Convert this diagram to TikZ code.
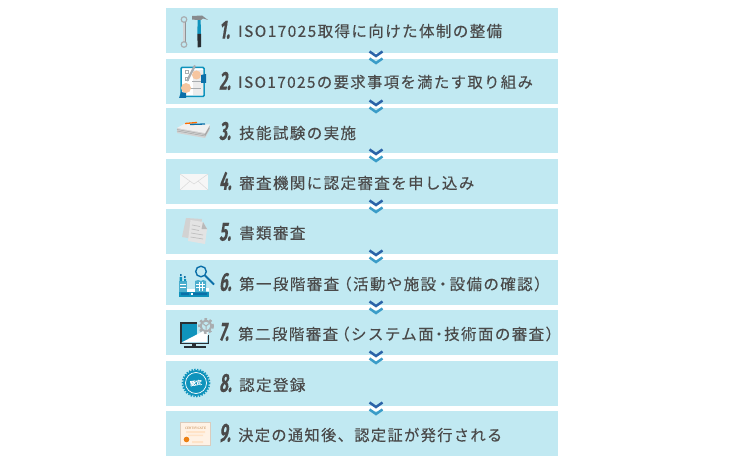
\documentclass[tikz,border=0pt]{standalone}
\usepackage{fontspec}
\usetikzlibrary{calc}
\newfontfamily\jpf[LetterSpace=9,FakeBold=0.25]{Noto Sans CJK JP}
\newfontfamily\jpb[FakeBold=0.6]{Noto Sans CJK JP}
\newfontfamily\numf[FakeSlant=0.16,FakeStretch=0.58,FakeBold=0.1]{Fira Sans}
\definecolor{barc}{HTML}{C1E9F2}
\definecolor{txt}{HTML}{4A4A4A}
\definecolor{chevd}{HTML}{2B63A8}
\definecolor{chevl}{HTML}{3A9CC8}
\definecolor{icb}{HTML}{0F93BC}
\definecolor{icn}{HTML}{0B6FA8}
\definecolor{icd}{HTML}{2A2F33}
\definecolor{skin}{HTML}{F6C6A0}
\definecolor{gr}{HTML}{A9ADB0}
\tikzset{
  x=1pt,y=-1pt,
  bar/.style={fill=barc,draw=none,minimum width=392pt,minimum height=45pt,inner sep=0pt,outer sep=0pt,anchor=north west},
  lbl/.style={anchor=west,inner sep=0pt,text=txt,font=\jpf\fontsize{15.5}{18}\selectfont},
  num/.style={anchor=west,inner sep=0pt,text=txt,font=\numf\bfseries\fontsize{26}{28}\selectfont},
  chev/.pic={
    \draw[chevd,line width=2.5pt,miter limit=10] (-6.5,1.5)--(0,6)--(6.5,1.5);
    \draw[chevl,line width=2.5pt,miter limit=10] (-6.5,8.5)--(0,13)--(6.5,8.5);
  }
}
\begin{document}
\begin{tikzpicture}
\useasboundingbox (0,0) rectangle (752,465);
\fill[white] (0,0) rectangle (752,465);
\node[bar] (b1) at (166,8) {};
\node[bar] (b2) at (166,59) {};
\node[bar] (b3) at (166,108) {};
\node[bar] (b4) at (166,159) {};
\node[bar] (b5) at (166,209) {};
\node[bar] (b6) at (166,260) {};
\node[bar] (b7) at (166,310) {};
\node[bar] (b8) at (166,361) {};
\node[bar] (b9) at (166,411) {};
\path ($(b1.south)+(14,-3)$) pic {chev};
\path ($(b2.south)+(14,-5)$) pic {chev};
\path ($(b3.south)+(14,-5)$) pic {chev};
\path ($(b4.south)+(14,-5)$) pic {chev};
\path ($(b5.south)+(14,-5)$) pic {chev};
\path ($(b6.south)+(14,-5)$) pic {chev};
\path ($(b7.south)+(14,-5)$) pic {chev};
\path ($(b8.south)+(14,-5)$) pic {chev};
\node[num] (n1) at (219,30) {1.};
\node[num] (n2) at (219,81) {2.};
\node[num] (n3) at (219,131) {3.};
\node[num] (n4) at (219,181) {4.};
\node[num] (n5) at (219,232) {5.};
\node[num] (n6) at (219,282) {6.};
\node[num] (n7) at (219,332) {7.};
\node[num] (n8) at (219,383) {8.};
\node[num] (n9) at (219,433) {9.};
\node[lbl] (t1) at (238,31) {ISO17025取得に向けた体制の整備};
\node[lbl] (t2) at (238,82) {\scalebox{.99}[1]{ISO17025の要求事項を満たす取り組み}};
\node[lbl] (t3) at (239,133) {技能試験の実施};
\node[lbl] (t4) at (239,183) {審査機関に認定審査を申し込み};
\node[lbl] (t5) at (239,233) {書類審査};
\node[lbl] (t6) at (239,284) {第一段階審査\kern-3pt（活動や施設\kern-1pt・\kern-1pt設備の確認）};
\node[lbl] (t7) at (238,334) {第二段階審査\kern-4pt（システム面\kern-2.5pt・\kern-2.5pt技術面の審査）};
\node[lbl] (t8) at (239,385) {認定登録};
\node[lbl] (t9) at (238,435) {\scalebox{.982}[1]{決定の通知後、認定証が発行される}};
% icon 1: wrench and hammer
\draw[gr!85!black,line width=3pt] (184,21)--(184,43);
\draw[gr!55,line width=1.2pt] (184,21)--(184,43);
\draw[gr,line width=1.2pt,fill=barc] (184,19.5) circle (2.8);
\draw[gr,line width=1.2pt,fill=barc] (184,44.5) circle (2.8);
\fill[icb] (197.6,19)--(200.6,19)--(201,34)--(197.4,34)--cycle;
\fill[icd] (197.4,34)--(201,34)--(201,47)--(197.6,47.5)--cycle;
\fill[gr!80!black] (192,16)--(202,15.5)--(208,20)--(203,18.5)--(201,20)--(197,20)--(192,19.5)--cycle;
% icon 2: clipboard
\draw[icb,line width=1.5pt,fill=white,rounded corners=1pt] (181,67.5) rectangle (204,96.5);
\fill[gray!15] (193,70) rectangle (202.5,95);
\draw[gr,line width=.7pt] (190,88)--(201,88) (192,81)--(201,81);
\draw[gr,line width=.6pt] (185,70.5) rectangle (188,73.5) (185,77) rectangle (188,80);
\draw[gr,line width=2.2pt] (195,65.5)--(187,81);
\fill[skin] (196.5,75) circle (4.5);
\fill[skin] (186,88) circle (5);
\fill[icn] (201,75)--(206,74)--(206,83)--(201,83)--cycle;
\fill[icn] (181,92)--(186,93)--(186,98)--(179,98)--cycle;
% icon 3: paper stack
\fill[gray!35] (177,128)--(177,133)--(205,138)--(209.5,130)--(209.5,125)--cycle;
\draw[gray!70,line width=.5pt] (177,129.5)--(205,134.5)--(209.5,126.5) (177,131)--(205,136)--(209.5,128);
\fill[gray!12] (177,128)--(185,123.5)--(210,124.5)--(205,133)--cycle;
\draw[orange!85!red,line width=1.3pt] (185,123.5)--(197,122.5);
\draw[icn,line width=1.3pt] (190,124.5)--(205,124);
% icon 4: envelope
\fill[gray!7] (180,174) rectangle (208,190);
\draw[gray!30,line width=.5pt] (180,174)--(194,184)--(208,174) (180,190)--(190,181) (208,190)--(198,181);
% icon 5: documents
\fill[gray!35] (186,218)--(202,219)--(199,240)--(182,237)--cycle;
\fill[gray!22] (190.5,220)--(203,222)--(207,229)--(205,244)--(188,241)--cycle;
\fill[gray!55] (203,222)--(207,229)--(201.5,229)--cycle;
\draw[gray!50,line width=.7pt] (192,225)--(200,226.5) (191.5,229)--(199,230.5) (191,233)--(203,235) (190.5,237)--(203,239);
% icon 6: factory and magnifier
\fill[icb!75] (179,281) rectangle (187,292);
\fill[icb!75] (195,281)--(198,280)--(201,281)--(203,280)--(206,281)--(206,292)--(195,292)--cycle;
\fill[icb] (179.5,277) rectangle (182,281) (184,279) rectangle (186,281);
\fill[icn] (180,274) rectangle (181.5,276) (184,276) rectangle (185.5,278);
\fill[white] (187,288.5) rectangle (195,291.5);
\fill[white] (206,288) rectangle (209,291);
\draw[white,line width=.5pt] (180,284) -- (186,284) (180,287)--(186,287) (196,284)--(205,284) (196,287)--(205,287) (199,282)--(199,291) (202,282)--(202,291);
\fill[icb] (179,291.5) rectangle (209,297);
\fill[icn] (181,292.5) rectangle (189,295) (193,292.5) rectangle (207,295);
\fill[white] (191,293) rectangle (192.5,295);
\draw[icn,line width=1.4pt] (201,271.5) circle (5.3);
\draw[icn,line width=1.8pt] (205,275.5)--(214,284.5);
% icon 7: monitor and gear
\fill[icd] (180,322) rectangle (209,344);
\fill[icb] (181.5,323.5) rectangle (207.7,342.5);
\fill[barc] (197,321) rectangle (210,336);
\fill[icd] (207.5,335) rectangle (209,344);
\fill[white] (181.5,342.5)--(207.5,329)--(207.5,342.5)--cycle;
\fill[icd] (192,344) rectangle (196,346);
\fill[icd] (184,346) rectangle (206,347.5);
\draw[gr,line width=2pt,dash pattern=on 2.6pt off 2.6pt] (206,326) circle (7);
\draw[gr,line width=2pt] (206,326) circle (5.4);
\draw[gr,line width=1pt] (206,326)--(202.8,323.5) (206,326)--(209.2,323.5) (206,326)--(206,330);
% icon 8: seal
\draw[icb,line width=1.6pt,dash pattern=on 1.4pt off 1.4pt] (196,383) circle (13.5);
\fill[icb] (196,383) circle (13);
\draw[white,line width=.7pt] (196,383) circle (10.5);
\node[inner sep=0pt,text=white,rotate=8,font=\jpb\fontsize{6}{6}\selectfont] (seal) at (196,383) {認定};
% icon 9: certificate
\draw[orange!30!gray!40!white,line width=1pt,fill=orange!10!white] (180.5,422.5) rectangle (210.5,445.5);
\node[inner sep=0pt,text=brown,font=\fontsize{3.2}{3.2}\selectfont\sffamily] (cert) at (195.5,428) {CERTIFICATE};
\fill[orange!22!white] (186,431) rectangle (205,433) (188,434.5) rectangle (203,436) (192,441) rectangle (203,443);
\fill[orange!70!brown] (186.5,439.5) circle (2.8);
\end{tikzpicture}
\end{document}
